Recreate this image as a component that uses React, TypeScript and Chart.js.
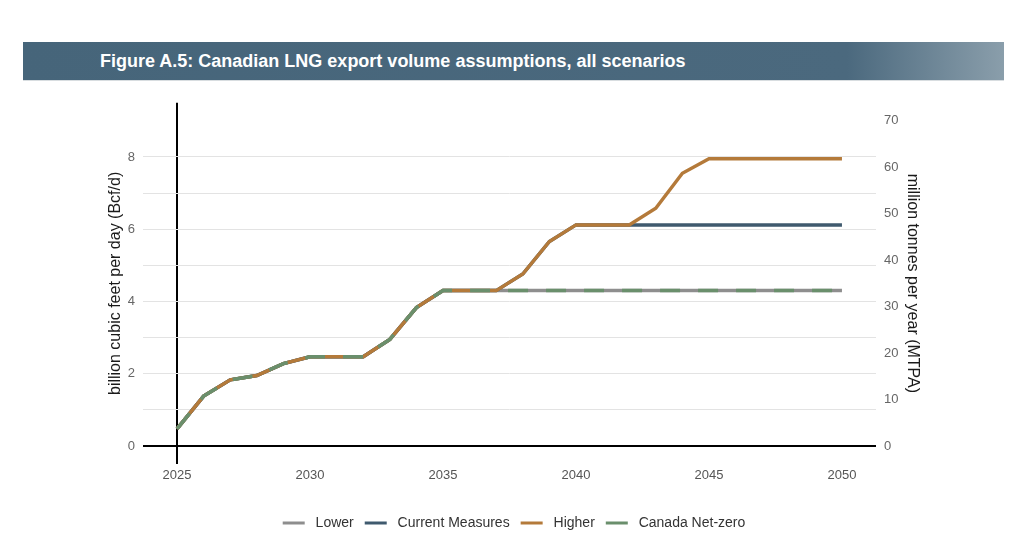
import React, { useEffect, useRef } from "react";
import { Chart, registerables } from "chart.js";

Chart.register(...registerables);

const years = [2025, 2026, 2027, 2028, 2029, 2030, 2031, 2032, 2033, 2034, 2035, 2036, 2037, 2038, 2039, 2040, 2041, 2042, 2043, 2044, 2045, 2046, 2047, 2048, 2049, 2050];

const lowerValues = [0.47, 1.38, 1.83, 1.95, 2.28, 2.47, 2.47, 2.47, 2.95, 3.83, 4.3, 4.3, 4.3, 4.3, 4.3, 4.3, 4.3, 4.3, 4.3, 4.3, 4.3, 4.3, 4.3, 4.3, 4.3, 4.3];
const currentValues = [0.47, 1.38, 1.83, 1.95, 2.28, 2.47, 2.47, 2.47, 2.95, 3.83, 4.3, 4.3, 4.3, 4.76, 5.66, 6.12, 6.12, 6.12, 6.12, 6.12, 6.12, 6.12, 6.12, 6.12, 6.12, 6.12];
const higherValues = [0.47, 1.38, 1.83, 1.95, 2.28, 2.47, 2.47, 2.47, 2.95, 3.83, 4.3, 4.3, 4.3, 4.76, 5.66, 6.12, 6.12, 6.12, 6.58, 7.55, 7.95, 7.95, 7.95, 7.95, 7.95, 7.95];
const netZeroValues = [0.47, 1.38, 1.83, 1.95, 2.28, 2.47, 2.47, 2.47, 2.95, 3.83, 4.3, 4.3, 4.3, 4.3, 4.3, 4.3, 4.3, 4.3, 4.3, 4.3, 4.3, 4.3, 4.3, 4.3, 4.3, 4.3];

const xTicks = [2025, 2030, 2035, 2040, 2045, 2050];
const leftTicks = [0, 1, 2, 3, 4, 5, 6, 7, 8];
const rightTicks = [0, 10, 20, 30, 40, 50, 60, 70];

const titleText = "Figure A.5: Canadian LNG export volume assumptions, all scenarios";
const leftTitle = "billion cubic feet per day (Bcf/d)";
const rightTitle = "million tonnes per year (MTPA)";

const FONT = "'Liberation Sans', Arial, sans-serif";

export default function App() {
  const ref = useRef<HTMLCanvasElement | null>(null);

  useEffect(() => {
    document.body.style.margin = "0";
    const ctx = ref.current;
    if (!ctx) return;
    const toPts = (arr: number[]) => arr.map((v, i) => ({ x: years[i], y: v }));
    const chart = new Chart(ctx, {
      type: "line",
      data: {
        datasets: [
          { label: "Canada Net-zero", data: toPts(netZeroValues), borderColor: "#6a8f6c", backgroundColor: "#6a8f6c", borderWidth: 3.5, borderDash: [20, 18], pointRadius: 0, yAxisID: "y" },
          { label: "Higher", data: toPts(higherValues), borderColor: "#b47a3a", backgroundColor: "#b47a3a", borderWidth: 3.5, pointRadius: 0, yAxisID: "y" },
          { label: "Current Measures", data: toPts(currentValues), borderColor: "#3f5a6e", backgroundColor: "#3f5a6e", borderWidth: 3.5, pointRadius: 0, yAxisID: "y" },
          { label: "Lower", data: toPts(lowerValues), borderColor: "#8e8e8e", backgroundColor: "#8e8e8e", borderWidth: 3.5, pointRadius: 0, yAxisID: "y" },
        ],
      },
      options: {
        animation: false,
        responsive: false,
        maintainAspectRatio: false,
        layout: { padding: { left: 102, right: 98, top: 9, bottom: 20 } },
        plugins: {
          tooltip: { enabled: false },
          legend: {
            position: "bottom",
            reverse: true,
            labels: {
              boxWidth: 22,
              boxHeight: 3,
              padding: 11,
              color: "#333",
              font: { family: FONT, size: 14 },
              generateLabels: (c: any) => {
                const items = Chart.defaults.plugins.legend.labels.generateLabels(c);
                return items.map((it: any) => ({ ...it, text: " " + it.text, lineWidth: 0, lineDash: [], fillStyle: it.strokeStyle }));
              },
            },
          },
        },
        scales: {
          x: {
            type: "linear",
            min: 2023.72,
            max: 2051.28,
            afterBuildTicks: (s: any) => { s.ticks = xTicks.map((v) => ({ value: v })); },
            afterFit: (s: any) => { s.height = 41; },
            border: { display: false },
            grid: {
              drawTicks: false,
              color: (c: any) => (c.tick && c.tick.value === 2025 ? "#000" : "rgba(0,0,0,0)"),
              lineWidth: 2,
            },
            ticks: {
              padding: 4,
              color: "#555",
              font: { family: FONT, size: 13 },
              callback: (v: any) => String(v),
            },
          },
          y: {
            position: "left",
            min: -0.5,
            max: 9.5,
            afterBuildTicks: (s: any) => { s.ticks = leftTicks.map((v) => ({ value: v })); },
            afterFit: (s: any) => { s.width = 41; },
            border: { display: false },
            grid: {
              drawTicks: false,
              color: (c: any) => (c.tick && c.tick.value === 0 ? "#000" : "#e3e3e3"),
              lineWidth: (c: any) => (c.tick && c.tick.value === 0 ? 2 : 1),
            },
            ticks: {
              padding: 8,
              color: "#666",
              font: { family: FONT, size: 13 },
              callback: (v: any) => (Number(v) % 2 === 0 ? String(v) : ""),
            },
            title: { display: true, text: leftTitle, color: "#1a1a1a", font: { family: FONT, size: 16 }, padding: 4 },
          },
          y2: {
            position: "right",
            min: -0.5 * 70 / 9,
            max: 9.5 * 70 / 9,
            afterBuildTicks: (s: any) => { s.ticks = rightTicks.map((v) => ({ value: v })); },
            afterFit: (s: any) => { s.width = 50; },
            border: { display: false },
            grid: { display: false, drawTicks: false },
            ticks: {
              padding: 8,
              color: "#666",
              font: { family: FONT, size: 13 },
            },
            title: { display: true, text: rightTitle, color: "#1a1a1a", font: { family: FONT, size: 16 }, padding: 4 },
          },
        },
      } as any,
    });
    return () => chart.destroy();
  }, []);

  return (
    <div style={{ position: "relative", width: 1024, height: 560, background: "#fff", overflow: "hidden" }}>
      <div
        style={{
          position: "absolute",
          left: 23,
          top: 42,
          width: 981,
          height: 39,
          background: "linear-gradient(to right, #46657a 0%, #4b697e 84%, #8a9eab 100%)",
          borderBottom: "1px solid #d8dde0",
          boxSizing: "border-box",
        }}
      >
        <div
          style={{
            position: "absolute",
            left: 77,
            top: 0,
            height: 38,
            lineHeight: "38px",
            color: "#fff",
            fontFamily: FONT,
            fontWeight: "bold",
            fontSize: 18,
            whiteSpace: "nowrap",
          }}
        >
          {titleText}
        </div>
      </div>
      <canvas ref={ref} width={1024} height={473} style={{ position: "absolute", left: 0, top: 87, width: 1024, height: 473 }} />
    </div>
  );
}
